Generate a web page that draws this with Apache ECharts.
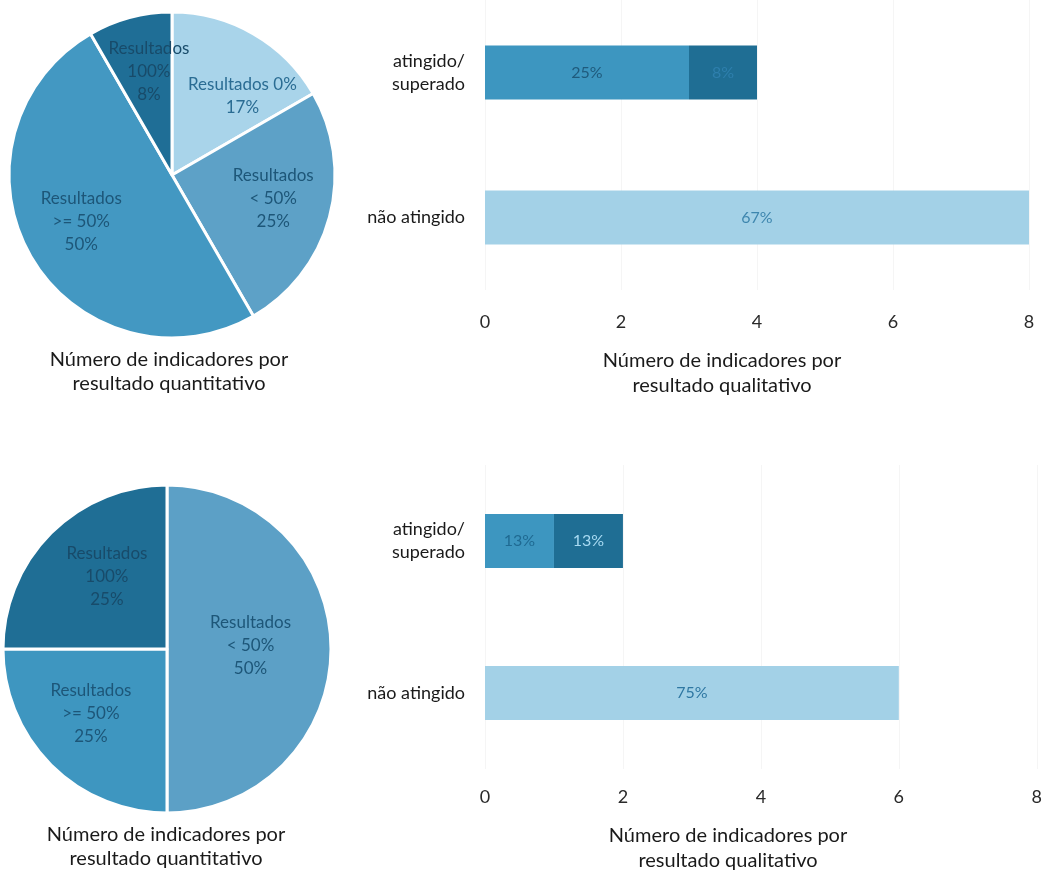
<!DOCTYPE html>
<html><head><meta charset="utf-8">
<script src="https://cdn.jsdelivr.net/npm/echarts@6/dist/echarts.min.js"></script>
<style>html,body{margin:0;padding:0;background:#fff}#c{width:1045px;height:874px}</style>
</head><body><div id="c"></div>
<script>
// ---- data ----
const pie1Names = ['Resultados 0%', 'Resultados < 50%', 'Resultados >= 50%', 'Resultados 100%'];
const pie1Values = [2, 3, 6, 1];
const pie2Names = ['Resultados < 50%', 'Resultados >= 50%', 'Resultados 100%'];
const pie2Values = [4, 2, 2];
const barCategories = ['atingido/\nsuperado', 'não atingido'];
const bar1Atingido = [3, null];
const bar1Superado = [1, null];
const bar1NaoAtingido = [null, 8];
const bar2Atingido = [1, null];
const bar2Superado = [1, null];
const bar2NaoAtingido = [null, 6];
const valueAxisMax = 8;
const valueAxisStep = 2;
const pieTitle = 'Número de indicadores por\nresultado quantitativo';
const barTitle = 'Número de indicadores por\nresultado qualitativo';

// ---- styles ----
const pie1Colors = ['#A9D4EA', '#5DA1C7', '#4398C2', '#1F6E96'];
const pie1LabelColors = ['#2A6C93', '#1D5678', '#1D5678', '#184B6A'];
const pie2Colors = ['#5CA0C6', '#3E96C0', '#1F6E95'];
const pie2LabelColors = ['#1D5678', '#1D5678', '#184B6A'];
const pie1Push = [[0.24, 18, 12], [0.24, 0, -4], [0.24, 0, -6], [0.24, 4, -2]];
const pie2Push = [[0.1, -10, -3], [0.1, -10, -2], [0.1, 6, -6]];
const cLight = '#A3D1E7', cMed = '#3D96C0', cDark = '#1F6E94';
const FONT = 'Lato, "Open Sans", sans-serif';

function pieLabel(p) {
  let n = p.name;
  if (n !== 'Resultados 0%') n = n.replace(' ', '\n');
  return n + '\n' + Math.round(p.percent) + '%';
}
function mkPieData(names, vals, colors, lcolors) {
  return names.map((n, i) => ({ name: n, value: vals[i], itemStyle: { color: colors[i] }, label: { color: lcolors[i] } }));
}
function radialPush(cx, cy, push) {
  return function (params) {
    const r = params.labelRect;
    const q = push[params.dataIndex];
    const lx = r.x + r.width / 2, ly = r.y + r.height / 2;
    return { dx: (lx - cx) * q[0] + q[1], dy: (ly - cy) * q[0] + q[2] };
  };
}
function pctFormatter(total) {
  return p => Math.round(p.value / total * 100) + '%';
}
const sum = a => a.reduce((s, v) => s + (v || 0), 0);
const total1 = sum(bar1Atingido) + sum(bar1Superado) + sum(bar1NaoAtingido);
const total2 = sum(bar2Atingido) + sum(bar2Superado) + sum(bar2NaoAtingido);

function barGridAxes(gi) {
  return {
    x: {
      type: 'value', gridIndex: gi, min: 0, max: valueAxisMax, interval: valueAxisStep,
      axisLine: { show: false }, axisTick: { show: false },
      splitLine: { show: true, lineStyle: { color: '#F5F5F5', width: 1 } },
      axisLabel: { fontFamily: FONT, fontSize: 18, color: '#2a2a2a', margin: 23 }
    },
    y: {
      type: 'category', gridIndex: gi, data: barCategories, inverse: true,
      axisLine: { show: false }, axisTick: { show: false },
      axisLabel: { fontFamily: FONT, fontSize: 18, color: '#1a1a1a', margin: 20, lineHeight: 23, align: 'right' }
    }
  };
}
const a0 = barGridAxes(0), a1 = barGridAxes(1);
a1.x.axisLabel.margin = 19;

function barSeries(gi, data, color, total, lcolor, name) {
  return {
    type: 'bar', name: name, xAxisIndex: gi, yAxisIndex: gi, stack: 's' + gi,
    data: data, barWidth: 54, itemStyle: { color: color },
    label: { show: true, position: 'inside', formatter: pctFormatter(total), fontFamily: FONT, fontSize: 16, color: lcolor }
  };
}

const chart = echarts.init(document.getElementById('c'));
chart.setOption({
  backgroundColor: '#ffffff',
  animation: false,
  grid: [
    { left: 485, right: 16, top: -4, height: 294 },
    { left: 485, right: 5, top: 465, height: 304 }
  ],
  xAxis: [a0.x, a1.x],
  yAxis: [a0.y, a1.y],
  series: [
    {
      type: 'pie', center: [172, 175], radius: 163, startAngle: 90, clockwise: true,
      data: mkPieData(pie1Names, pie1Values, pie1Colors, pie1LabelColors),
      itemStyle: { borderColor: '#fff', borderWidth: 3 },
      label: { show: true, position: 'inside', formatter: pieLabel, fontFamily: FONT, fontSize: 17, lineHeight: 23 },
      labelLine: { show: false },
      labelLayout: radialPush(172, 175, pie1Push)
    },
    {
      type: 'pie', center: [167, 649], radius: 164, startAngle: 90, clockwise: true,
      data: mkPieData(pie2Names, pie2Values, pie2Colors, pie2LabelColors),
      itemStyle: { borderColor: '#fff', borderWidth: 3 },
      label: { show: true, position: 'inside', formatter: pieLabel, fontFamily: FONT, fontSize: 17, lineHeight: 23 },
      labelLine: { show: false },
      labelLayout: radialPush(167, 649, pie2Push)
    },
    barSeries(0, bar1Atingido, cMed, total1, '#1F5A7C', 'atingido'),
    barSeries(0, bar1Superado, cDark, total1, '#2E7FAD', 'superado'),
    barSeries(0, bar1NaoAtingido, cLight, total1, '#3E86AE', 'não atingido'),
    barSeries(1, bar2Atingido, cMed, total2, '#1F6A92', 'atingido'),
    barSeries(1, bar2Superado, cDark, total2, '#A8DAF2', 'superado'),
    barSeries(1, bar2NaoAtingido, cLight, total2, '#2E77A2', 'não atingido')
  ],
  graphic: [
    { type: 'text', x: 169, y: 348, style: { text: pieTitle, align: 'center', verticalAlign: 'top', fontFamily: FONT, fontSize: 20, lineHeight: 24, fill: '#1a1a1a' } },
    { type: 'text', x: 166, y: 823, style: { text: pieTitle, align: 'center', verticalAlign: 'top', fontFamily: FONT, fontSize: 20, lineHeight: 24, fill: '#1a1a1a' } },
    { type: 'text', x: 722, y: 348, style: { text: barTitle, align: 'center', verticalAlign: 'top', fontFamily: FONT, fontSize: 20, lineHeight: 25, fill: '#1a1a1a' } },
    { type: 'text', x: 728, y: 823, style: { text: barTitle, align: 'center', verticalAlign: 'top', fontFamily: FONT, fontSize: 20, lineHeight: 25, fill: '#1a1a1a' } }
  ]
});
</script></body></html>
